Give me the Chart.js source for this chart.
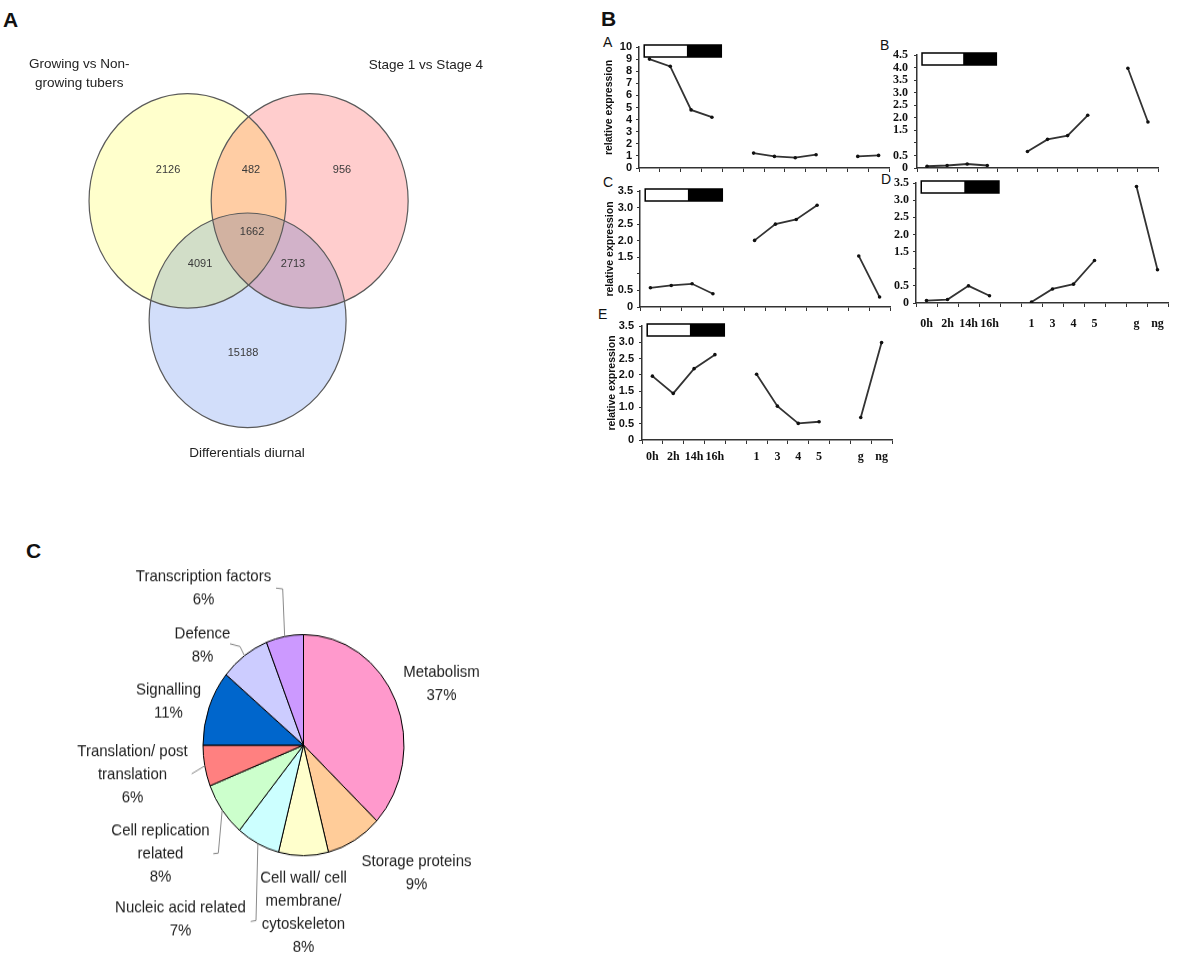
<!DOCTYPE html>
<html>
<head>
<meta charset="utf-8">
<script src="https://cdn.jsdelivr.net/npm/chart.js@4.4.1/dist/chart.umd.min.js"></script>
<style>
html, body { margin: 0; padding: 0; background: #fff; }
body { width: 1200px; height: 958px; position: relative; overflow: hidden; font-family: "Liberation Sans", Arial, sans-serif; }
.box { position: absolute; }
.tag { position: absolute; font-weight: bold; font-size: 21px; line-height: 21px; color: #111; }
.sub { position: absolute; font-size: 14px; line-height: 14px; color: #111; }
#pieWrap { position: absolute; left: 0; top: 480px; width: 560px; height: 435px; transform: scaleY(1.1); transform-origin: 0 0; }
</style>
</head>
<body>

<div class="tag" style="left:3px;top:9px;">A</div>
<div class="tag" style="left:601px;top:8px;">B</div>
<div class="tag" style="left:26px;top:540px;">C</div>

<div class="sub" style="left:603px;top:35px;">A</div>
<div class="sub" style="left:880px;top:38px;">B</div>
<div class="sub" style="left:603px;top:175px;">C</div>
<div class="sub" style="left:881px;top:172px;">D</div>
<div class="sub" style="left:598px;top:307px;">E</div>

<div class="box" style="left:0;top:0;width:600px;height:470px;"><canvas id="venn"></canvas></div>
<div id="panels"></div>
<div id="pieWrap"><canvas id="pie"></canvas></div>

<script>
/* ===========================
   DATA
=========================== */

// Venn (panel A)
const vennSets = ['Growing vs Non-growing tubers', 'Stage 1 vs Stage 4', 'Differentials diurnal'];
const vennRegions = ['growing only', 'stage only', 'diurnal only', 'growing+stage', 'growing+diurnal', 'stage+diurnal', 'all three'];
const vennCounts = [2126, 956, 15188, 482, 4091, 2713, 1662];

// expression profiles (panel B)
const timeLabels = ['0h', '2h', '14h', '16h', '', '1', '3', '4', '5', '', 'g', 'ng'];
const exprA = [9.0, 8.4, 4.8, 4.2, null, 1.23, 0.96, 0.85, 1.1, null, 0.96, 1.04];
const exprB = [0.07, 0.10, 0.16, 0.10, null, 0.66, 1.14, 1.29, 2.1, null, 3.97, 1.83];
const exprC = [0.58, 0.65, 0.70, 0.40, null, 2.01, 2.50, 2.64, 3.07, null, 1.54, 0.30];
const exprD = [0.07, 0.10, 0.50, 0.21, null, 0.03, 0.41, 0.55, 1.24, null, 3.40, 0.97];
const exprE = [1.96, 1.43, 2.19, 2.62, null, 2.02, 1.04, 0.51, 0.56, null, 0.69, 2.99];

// functional categories (panel C)
const pieCats = ['Metabolism', 'Storage proteins', 'Cell wall/ cell membrane/ cytoskeleton',
    'Nucleic acid related', 'Cell replication related', 'Translation/ post translation',
    'Signalling', 'Defence', 'Transcription factors'];
const piePct = [37, 9, 8, 7, 8, 6, 11, 8, 6];

/* ===========================
   LAYOUT / STYLE
=========================== */

const vennColors = ['rgb(255,255,204)', 'rgb(255,205,205)', 'rgb(210,222,250)'];
const vennCircles = [[-0.62, 0.556], [0.62, 0.556], [-0.01, -0.557]];   // unit radius
const vennCountPos = [[-0.818, 0.843], [0.948, 0.843], [-0.057, -0.862], [0.024, 0.843],
    [-0.493, -0.033], [0.451, -0.033], [0.035, 0.266]];
const vennSetLines = [['Growing vs Non-', 'growing tubers'], ['Stage 1 vs Stage 4'], ['Differentials diurnal']];
const vennSetPos = [[-1.72, 1.83], [1.80, 1.822], [-0.016, -1.794]];

const barSpan = [-0.25, 1.8, 3.45];   // light / dark bar, in category units

const panels = [
    { vals: exprA, max: 10, step: 1, hide: [], L: 639, R: 889, T: 47, B: 168, xLab: false, title: true, serif: false, pad: 4 },
    { vals: exprB, max: 4.5, step: 0.5, hide: [1], L: 917, R: 1158, T: 55, B: 168, xLab: false, title: false, serif: true, pad: 6 },
    { vals: exprC, max: 3.5, step: 0.5, hide: [1], L: 640, R: 890, T: 191, B: 307, xLab: false, title: true, serif: false, pad: 4 },
    { vals: exprD, max: 3.5, step: 0.5, hide: [1], L: 916, R: 1168, T: 183, B: 303, xLab: true, title: false, serif: true, pad: 4, xPad: 10 },
    { vals: exprE, max: 3.5, step: 0.5, hide: [], L: 642, R: 892, T: 326, B: 440, xLab: true, title: true, serif: false, pad: 5, xPad: 6 }
];

const pieColors = ['#FF99CC', '#FFCC99', '#FFFFCC', '#CCFFFF', '#CCFFCC', '#FF8080', '#0066CC', '#CCCCFF', '#CC99FF'];
const pieLines = [['Metabolism'], ['Storage proteins'], ['Cell wall/ cell', 'membrane/', 'cytoskeleton'],
    ['Nucleic acid related'], ['Cell replication', 'related'], ['Translation/ post', 'translation'],
    ['Signalling'], ['Defence'], ['Transcription factors']];
// label first-line centre, relative to pie centre (internal px)
const pieLabelPos = [[138, -66], [113, 106], [0, 121], [-123, 148], [-143, 78], [-171, 6], [-135, -50], [-101, -101], [-100, -153]];
// leader lines: points near the label, then the slice edge
const pieLeaders = [null, null, null, [[-52.8, 160.3], [-47.5, 159.4]], [[-90.2, 98.8], [-85.2, 98.2]],
    [[-111.8, 26.1]], null, [[-73.5, -92.1], [-63.5, -89.7]], [[-27.5, -142.7], [-20.8, -142]]];

/* ===========================
   VENN
=========================== */

const vennPlugin = {
    id: 'vennCircles',
    beforeDatasetsDraw(chart) {
        const ctx = chart.ctx, xs = chart.scales.x, ys = chart.scales.y;
        const shapes = vennCircles.map(c => {
            const px = xs.getPixelForValue(c[0]), py = ys.getPixelForValue(c[1]);
            return {
                px, py,
                rx: Math.abs(xs.getPixelForValue(c[0] + 1) - px),
                ry: Math.abs(ys.getPixelForValue(c[1] + 1) - py)
            };
        });
        ctx.save();
        ctx.globalCompositeOperation = 'multiply';
        shapes.forEach((s, i) => {
            ctx.beginPath();
            ctx.ellipse(s.px, s.py, s.rx, s.ry, 0, 0, Math.PI * 2);
            ctx.fillStyle = vennColors[i];
            ctx.fill();
        });
        ctx.globalCompositeOperation = 'source-over';
        ctx.strokeStyle = '#5a5a5a';
        ctx.lineWidth = 1.2;
        shapes.forEach(s => {
            ctx.beginPath();
            ctx.ellipse(s.px, s.py, s.rx, s.ry, 0, 0, Math.PI * 2);
            ctx.stroke();
        });
        ctx.restore();
    },
    afterDatasetsDraw(chart) {
        const ctx = chart.ctx, xs = chart.scales.x, ys = chart.scales.y;
        ctx.save();
        ctx.textAlign = 'center';
        ctx.textBaseline = 'middle';
        ctx.fillStyle = '#3a3a3a';
        ctx.font = '11px "Liberation Sans", Arial, sans-serif';
        chart.getDatasetMeta(0).data.forEach((pt, i) => {
            ctx.fillText(String(vennCounts[i]), pt.x, pt.y);
        });
        ctx.fillStyle = '#222';
        ctx.font = '13.5px "Liberation Sans", Arial, sans-serif';
        vennSetLines.forEach((lines, i) => {
            const x = xs.getPixelForValue(vennSetPos[i][0]);
            const y = ys.getPixelForValue(vennSetPos[i][1]);
            lines.forEach((t, k) => ctx.fillText(t, x, y + k * 19));
        });
        ctx.restore();
    }
};

new Chart(document.getElementById('venn'), {
    type: 'scatter',
    data: {
        labels: vennRegions,
        datasets: [{
            label: vennSets.join(' / '),
            data: vennCountPos.map(p => ({ x: p[0], y: p[1] })),
            pointRadius: 0
        }]
    },
    options: {
        responsive: true,
        maintainAspectRatio: false,
        animation: false,
        layout: { padding: 0 },
        plugins: { legend: { display: false }, tooltip: { enabled: false } },
        scales: {
            x: { type: 'linear', display: false, min: -2.524, max: 3.568 },
            y: { type: 'linear', display: false, min: -1.952, max: 2.428 }
        }
    },
    plugins: [vennPlugin]
});

/* ===========================
   EXPRESSION PANELS
=========================== */

const lightDarkPlugin = {
    id: 'lightDark',
    afterDraw(chart) {
        const ctx = chart.ctx, xs = chart.scales.x;
        const top = chart.chartArea.top - 2;
        const a = xs.getPixelForValue(barSpan[0]);
        const b = xs.getPixelForValue(barSpan[1]);
        const c = xs.getPixelForValue(barSpan[2]);
        ctx.save();
        ctx.fillStyle = '#fff';
        ctx.fillRect(a, top, b - a, 12);
        ctx.fillStyle = '#000';
        ctx.fillRect(b, top, c - b, 12);
        ctx.strokeStyle = '#000';
        ctx.lineWidth = 1.5;
        ctx.strokeRect(a, top, c - a, 12);
        ctx.restore();
    }
};

const PAD_L = 40, PAD_T = 14, PAD_R = 10, X_H = 34;

panels.forEach((p, idx) => {
    const box = document.createElement('div');
    box.className = 'box';
    box.style.left = (p.L - PAD_L) + 'px';
    box.style.top = (p.T - PAD_T) + 'px';
    box.style.width = (p.R - p.L + PAD_L + PAD_R) + 'px';
    box.style.height = (p.B - p.T + PAD_T + X_H) + 'px';
    const cv = document.createElement('canvas');
    box.appendChild(cv);
    document.getElementById('panels').appendChild(box);

    const tickFont = p.serif
        ? { family: '"Liberation Serif", "Times New Roman", serif', size: 12, weight: 'bold' }
        : { family: '"Liberation Sans", Arial, sans-serif', size: 11, weight: 'bold' };

    new Chart(cv, {
        type: 'line',
        data: {
            labels: timeLabels,
            datasets: [{
                data: p.vals,
                borderColor: '#333',
                borderWidth: 1.8,
                pointRadius: 1.8,
                pointBorderWidth: 0,
                pointBackgroundColor: '#111',
                spanGaps: false,
                tension: 0
            }]
        },
        options: {
            responsive: true,
            maintainAspectRatio: false,
            animation: false,
            layout: { padding: { top: PAD_T, right: PAD_R, left: 0, bottom: 0 } },
            plugins: { legend: { display: false }, tooltip: { enabled: false } },
            scales: {
                x: {
                    offset: true,
                    afterFit: s => { s.height = X_H; },
                    border: { color: '#333', width: 1.5 },
                    grid: { drawOnChartArea: false, offset: true, color: '#333', tickLength: 4 },
                    ticks: {
                        display: p.xLab,
                        autoSkip: false,
                        maxRotation: 0,
                        padding: p.xPad || 4,
                        color: '#111',
                        font: { family: '"Liberation Serif", "Times New Roman", serif', size: 12, weight: 'bold' }
                    }
                },
                y: {
                    min: 0,
                    max: p.max,
                    afterFit: s => { s.width = PAD_L; },
                    border: { color: '#333', width: 1.5 },
                    grid: { drawOnChartArea: false, color: '#333', tickLength: 3 },
                    title: {
                        display: p.title,
                        text: 'relative expression',
                        color: '#111',
                        padding: { top: 4, bottom: 0 },
                        font: { family: '"Liberation Sans", Arial, sans-serif', size: 10.5, weight: 'bold' }
                    },
                    ticks: {
                        stepSize: p.step,
                        autoSkip: false,
                        padding: p.pad,
                        color: '#111',
                        font: tickFont,
                        callback: v => {
                            if (p.hide.includes(v)) return '';
                            if (v === 0) return '0';
                            return p.step < 1 ? v.toFixed(1) : String(v);
                        }
                    }
                }
            }
        },
        plugins: [lightDarkPlugin]
    });
});

/* ===========================
   PIE
=========================== */

const pieLabelPlugin = {
    id: 'pieLabels',
    afterDraw(chart) {
        const ctx = chart.ctx;
        const arcs = chart.getDatasetMeta(0).data;
        const cx = arcs[0].x, cy = arcs[0].y, r = arcs[0].outerRadius;
        ctx.save();
        ctx.strokeStyle = '#8a8a8a';
        ctx.lineWidth = 1;
        arcs.forEach((arc, i) => {
            const lead = pieLeaders[i];
            if (!lead) return;
            const mid = (arc.startAngle + arc.endAngle) / 2;
            ctx.beginPath();
            ctx.moveTo(cx + lead[0][0], cy + lead[0][1]);
            for (let k = 1; k < lead.length; k++) ctx.lineTo(cx + lead[k][0], cy + lead[k][1]);
            ctx.lineTo(cx + Math.cos(mid) * r, cy + Math.sin(mid) * r);
            ctx.stroke();
        });
        ctx.fillStyle = '#222';
        ctx.font = '15px "Liberation Sans", Arial, sans-serif';
        ctx.textAlign = 'center';
        ctx.textBaseline = 'middle';
        arcs.forEach((arc, i) => {
            const lines = pieLines[i].concat(piePct[i] + '%');
            lines.forEach((t, k) => ctx.fillText(t, cx + pieLabelPos[i][0], cy + pieLabelPos[i][1] + k * 21));
        });
        ctx.restore();
    }
};

new Chart(document.getElementById('pie'), {
    type: 'pie',
    data: {
        labels: pieCats,
        datasets: [{
            data: piePct,
            backgroundColor: pieColors,
            borderColor: '#000',
            borderWidth: 1
        }]
    },
    options: {
        responsive: true,
        maintainAspectRatio: false,
        animation: false,
        layout: { padding: { left: 202, right: 155, top: 140, bottom: 93 } },
        plugins: { legend: { display: false }, tooltip: { enabled: false } }
    },
    plugins: [pieLabelPlugin]
});
</script>
</body>
</html>
